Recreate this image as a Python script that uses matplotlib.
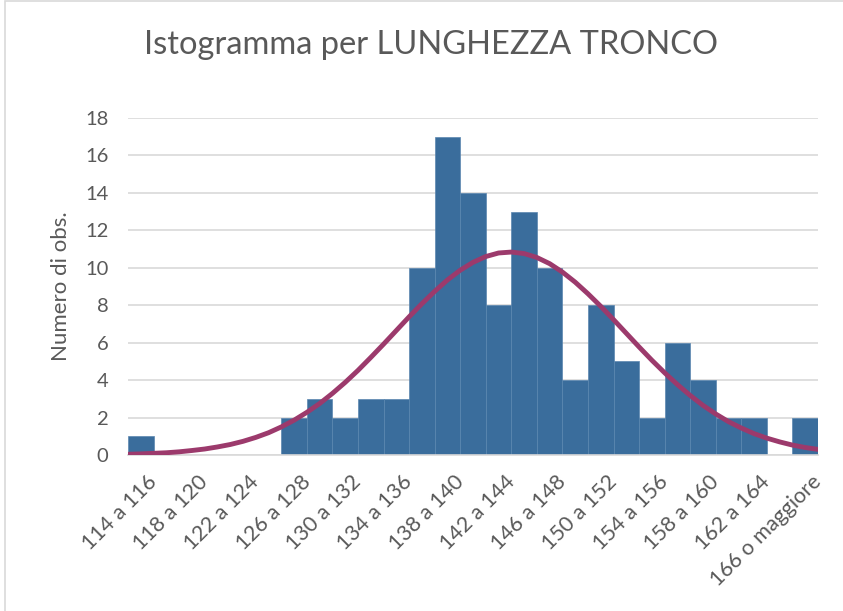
import numpy as np
import matplotlib.pyplot as plt
import matplotlib.transforms as mtransforms
from matplotlib.patches import Rectangle

# classi dell'istogramma
classi = ["114 a 116", "116 a 118", "118 a 120", "120 a 122", "122 a 124", "124 a 126",
          "126 a 128", "128 a 130", "130 a 132", "132 a 134", "134 a 136", "136 a 138",
          "138 a 140", "140 a 142", "142 a 144", "144 a 146", "146 a 148", "148 a 150",
          "150 a 152", "152 a 154", "154 a 156", "156 a 158", "158 a 160", "160 a 162",
          "162 a 164", "164 a 166", "166 o maggiore"]
frequenze = [1, 0, 0, 0, 0, 0, 2, 3, 2, 3, 3, 10, 17, 14, 8, 13, 10, 4, 8, 5, 2, 6, 4, 2, 2, 0, 2]

# curva normale letta ogni mezza classe (da 0 a 27)
curva = [0.04, 0.06, 0.09, 0.12, 0.17, 0.24, 0.32, 0.43, 0.56, 0.73, 0.94, 1.19,
         1.50, 1.86, 2.28, 2.75, 3.29, 3.88, 4.52, 5.21, 5.92, 6.65, 7.38, 8.08,
         8.74, 9.35, 9.87, 10.29, 10.60, 10.79, 10.84, 10.76, 10.55, 10.22, 9.77, 9.23,
         8.61, 7.94, 7.23, 6.50, 5.77, 5.06, 4.39, 3.76, 3.18, 2.65, 2.19, 1.78,
         1.44, 1.14, 0.90, 0.70, 0.53, 0.40, 0.30]
curva_x = np.arange(len(curva)) * 0.5

plt.rcParams['font.family'] = ['Lato', 'DejaVu Sans']

fig = plt.figure(figsize=(8.43, 6.11), dpi=100)
W, H = 843, 611
ax = fig.add_axes([128 / W, 1 - 455 / H, 690 / W, 337 / H])

n = len(classi)
ax.bar(range(n), frequenze, width=1.0, align='edge', color='#3a6d9c',
       edgecolor='#5a86b0', linewidth=0.5, zorder=2)
ax.plot(curva_x, curva, color='#9c3a6c', linewidth=3.5,
        solid_capstyle='round', zorder=3)

ax.set_xlim(0, n)
ax.set_ylim(0, 18)
ax.set_yticks(range(0, 19, 2))
ax.grid(axis='y', color='#d9d9d9', linewidth=1.2, zorder=0)
for s in ['top', 'right', 'left']:
    ax.spines[s].set_visible(False)
ax.spines['bottom'].set_color('#d9d9d9')
ax.spines['bottom'].set_linewidth(1.2)
ax.tick_params(length=0, labelsize=14.5, labelcolor='#595959')
ax.tick_params(axis='y', pad=14)

pos = [i + 0.5 for i in range(0, n, 2)]
ax.set_xticks(pos)
ax.set_xticklabels(classi[::2], rotation=45, ha='right', va='top',
                   rotation_mode='anchor', fontsize=15.5)
ax.tick_params(axis='x', pad=12)
off = mtransforms.ScaledTranslation(6 / 100, 0, fig.dpi_scale_trans)
for lab in ax.get_xticklabels():
    lab.set_transform(lab.get_transform() + off)

ax.set_ylabel("Numero di obs.", fontsize=16, color='#595959', labelpad=10)

fig.text(431 / W, 1 - 45 / H, "Istogramma per LUNGHEZZA TRONCO", ha='center', va='center',
         fontsize=23.5, color='#595959')

fig.patches.append(Rectangle((5 / W, -0.1), 1.2, 1.1 - 1.5 / H, transform=fig.transFigure,
                             fill=False, edgecolor='#d9d9d9', linewidth=1.2))

fig.savefig("out.png", dpi=100)
